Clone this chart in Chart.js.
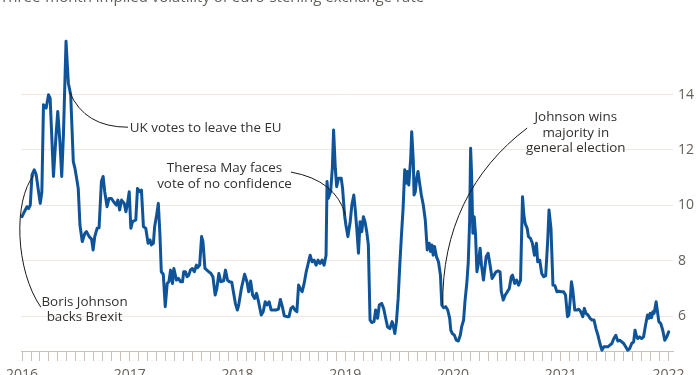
<!DOCTYPE html>
<html>
<head>
<meta charset="utf-8">
<script src="https://cdn.jsdelivr.net/npm/chart.js@4.4.0/dist/chart.umd.min.js"></script>
<style>
  html, body { margin: 0; padding: 0; background: #ffffff; }
  #wrap { width: 700px; height: 375px; }
</style>
</head>
<body>
<div id="wrap"><canvas id="volChart" width="700" height="375"></canvas></div>
<script>
const chartTitle = "Three-month implied volatility of euro-sterling exchange rate";
const yearLabels = ["2016", "2017", "2018", "2019", "2020", "2021", "2022"];
const yTickValues = [6, 8, 10, 12, 14];

// x = months since January 2016
const months = [
  // 2016
  0.00, 0.26, 0.55, 0.74, 0.92, 1.11, 1.36, 1.58, 1.84, 2.03, 2.21, 2.39, 2.69, 2.95, 3.13, 3.50, 3.79,
  3.98, 4.24, 4.42, 4.61, 4.90, 5.16, 5.42, 5.71, 5.89, 6.08, 6.26, 6.45, 6.71, 7.00, 7.18, 7.48, 7.74,
  7.92, 8.10, 8.36, 8.58, 8.84, 9.03, 9.21, 9.47, 9.69, 9.95, 10.20, 10.50, 10.68, 10.87, 11.09,
  // 2017
  11.38, 11.57, 11.75, 11.94, 12.12, 12.30, 12.67, 12.86, 13.12, 13.30, 13.52, 13.78, 14.04, 14.26, 14.40,
  14.63, 14.77, 14.99, 15.18, 15.36, 15.51, 15.73, 15.95, 16.17, 16.36, 16.54, 16.76, 16.91, 17.20, 17.43,
  17.65, 17.87, 18.01, 18.20, 18.38, 18.57, 18.75, 18.97, 19.19, 19.42, 19.56, 19.78, 20.00, 20.15, 20.37,
  20.59, 20.81, 21.04, 21.26, 21.51, 21.70, 21.92, 22.14, 22.44, 22.66, 22.88, 23.10, 23.36, 23.54, 23.76, 23.98,
  // 2018
  24.13, 24.43, 24.79, 25.05, 25.24, 25.46, 25.68, 25.90, 26.12, 26.34, 26.64, 26.86, 27.08, 27.30, 27.52,
  27.74, 28.04, 28.29, 28.55, 28.77, 28.99, 29.21, 29.51, 29.73, 29.95, 30.17, 30.39, 30.61, 30.80, 30.98,
  31.20, 31.42, 31.65, 31.87, 32.09, 32.31, 32.53, 32.75, 32.97, 33.19, 33.41, 33.64, 33.86, 33.97, 34.11,
  34.23, 34.37, 34.56, 34.70, 34.89, 35.04,
  // 2019
  35.26, 35.55, 35.70, 35.92, 36.07, 36.29, 36.55, 36.73, 36.95, 37.10, 37.28, 37.47, 37.65, 37.84, 38.02,
  38.20, 38.39, 38.57, 38.76, 38.94, 39.20, 39.38, 39.60, 39.79, 40.05, 40.27, 40.49, 40.71, 40.97, 41.22,
  41.37, 41.52, 41.70, 41.89, 42.07, 42.26, 42.44, 42.62, 42.77, 42.92, 43.07, 43.29, 43.40, 43.58, 43.66,
  43.80, 43.95, 44.10, 44.28, 44.47, 44.69, 44.91, 45.13, 45.35, 45.50, 45.65, 45.79, 45.94, 46.16, 46.38,
  46.60, 46.75, 46.97, 47.19, 47.41,
  // 2020
  47.63, 47.75, 47.93, 48.15, 48.37, 48.59, 48.81, 48.96, 49.18, 49.33, 49.55, 49.70, 49.85, 49.96, 50.07,
  50.21, 50.36, 50.51, 50.66, 50.80, 51.02, 51.17, 51.39, 51.54, 51.69, 51.91, 52.13, 52.35, 52.57, 52.79,
  53.01, 53.24, 53.38, 53.60, 53.82, 54.05, 54.27, 54.49, 54.63, 54.86, 55.08, 55.30, 55.52, 55.74, 55.89,
  56.03, 56.26, 56.40, 56.62, 56.84, 57.07, 57.29, 57.43, 57.66, 57.88, 58.10, 58.32, 58.54, 58.69, 58.91,
  59.13, 59.35, 59.57, 59.79,
  // 2021
  60.05, 60.31, 60.53, 60.75, 60.90, 61.04, 61.19, 61.34, 61.56, 61.78, 62.00, 62.22, 62.45, 62.63, 62.81,
  63.03, 63.26, 63.48, 63.70, 63.92, 64.14, 64.36, 64.58, 64.80, 65.02, 65.24, 65.47, 65.69, 65.91, 66.13,
  66.35, 66.57, 66.79, 67.01, 67.23, 67.46, 67.68, 67.90, 68.12, 68.27, 68.41, 68.56, 68.78, 69.00, 69.22,
  69.44, 69.66, 69.81, 69.96, 70.11, 70.26, 70.40, 70.62, 70.77, 70.92, 71.14, 71.36, 71.58, 71.80, 72.02
];

const vol = [
  // 2016
  9.59, 9.77, 9.95, 9.89, 10.01, 11.10, 11.28, 11.10, 10.49, 10.07, 10.49, 13.63, 13.51, 13.99, 13.87, 11.04, 12.54,
  13.39, 12.18, 11.04, 12.54, 15.92, 14.41, 13.99, 11.58, 11.34, 10.98, 10.61, 9.29, 8.69, 8.99, 9.05, 8.87, 8.78,
  8.39, 8.87, 9.17, 9.19, 10.86, 11.04, 10.49, 9.95, 10.25, 10.25, 10.13, 10.01, 10.19, 9.83, 10.19,
  // 2017
  10.07, 9.77, 10.07, 10.49, 9.17, 9.41, 9.47, 10.61, 10.49, 10.55, 9.23, 9.17, 8.63, 8.75, 8.57,
  8.63, 9.23, 9.65, 10.07, 8.93, 7.60, 7.51, 6.34, 7.18, 7.24, 7.66, 7.18, 7.72, 7.30, 7.36,
  7.24, 7.24, 7.60, 7.60, 7.42, 7.48, 7.66, 7.72, 7.60, 7.84, 7.75, 7.84, 8.87, 8.69, 7.72,
  7.66, 7.60, 7.54, 7.42, 6.76, 7.00, 7.54, 7.24, 7.27, 7.66, 7.30, 7.24, 7.22, 6.88, 6.46, 6.22,
  // 2018
  6.40, 7.00, 7.51, 7.24, 6.88, 7.27, 6.76, 6.64, 6.82, 6.52, 6.04, 6.16, 6.52, 6.40, 6.52,
  6.22, 6.22, 6.22, 6.25, 6.60, 6.34, 6.01, 5.98, 5.98, 6.28, 6.34, 6.22, 6.16, 7.12, 7.00,
  6.88, 7.18, 7.60, 7.90, 8.20, 7.96, 8.02, 7.84, 8.02, 7.90, 8.02, 7.84, 8.20, 10.86, 10.25,
  10.37, 10.49, 11.34, 12.72, 11.34, 10.67,
  // 2019
  10.98, 10.98, 10.61, 9.65, 9.29, 8.87, 9.41, 10.01, 10.37, 9.89, 9.17, 8.27, 9.41, 9.05, 9.59,
  9.41, 9.05, 8.57, 5.86, 5.77, 5.80, 6.22, 5.92, 6.40, 6.46, 6.28, 5.94, 5.61, 5.55, 5.80,
  5.61, 5.37, 5.80, 6.64, 7.84, 8.93, 9.89, 11.28, 10.80, 11.22, 10.73, 11.70, 12.66, 11.58, 10.37,
  10.49, 10.98, 11.22, 10.80, 10.37, 10.01, 9.47, 8.39, 8.63, 8.33, 8.57, 8.20, 8.51, 8.14, 7.96,
  7.48, 6.40, 6.30, 6.34, 6.22,
  // 2020
  5.92, 5.49, 5.37, 5.31, 5.13, 5.10, 5.31, 5.61, 5.86, 6.52, 7.24, 7.96, 9.41, 12.06, 11.10,
  8.99, 9.59, 8.93, 7.60, 7.84, 8.45, 7.84, 7.30, 7.72, 8.14, 8.27, 7.84, 7.36, 7.48, 7.60,
  7.63, 7.60, 6.88, 6.58, 6.76, 6.88, 7.00, 7.42, 7.48, 7.18, 7.30, 7.12, 7.30, 10.31, 9.65,
  9.35, 9.17, 8.87, 8.81, 8.63, 8.20, 8.63, 7.96, 8.02, 7.54, 7.42, 7.46, 8.69, 9.83, 9.17,
  7.12, 7.10, 6.88, 6.90,
  // 2021
  6.88, 6.88, 6.76, 5.98, 6.04, 6.52, 7.24, 6.94, 6.22, 6.22, 6.25, 6.16, 5.98, 6.28, 6.10,
  6.04, 5.92, 5.86, 5.86, 5.55, 5.31, 5.01, 4.77, 4.89, 4.89, 4.89, 4.95, 5.01, 5.19, 5.31,
  5.10, 5.13, 5.07, 5.01, 4.89, 4.77, 4.83, 5.01, 5.07, 5.49, 5.31, 5.19, 5.25, 5.19, 5.25,
  5.67, 6.04, 5.92, 6.10, 5.94, 6.16, 6.10, 6.52, 6.16, 5.80, 5.73, 5.49, 5.13, 5.25, 5.43
];

// annotations: text anchor and connector path, all in data units (months, vol)
const notes = [
  { lines: ["UK votes to leave the EU"], x: 12.0, y: 12.79, align: "left",
    path: [[5.30, 14.09], [6.96, 12.82], [11.80, 12.82]] },
  { lines: ["Theresa May faces", "vote of no confidence"], x: 22.55, y: 11.34, align: "center",
    path: [[29.95, 11.20], [34.92, 10.91], [36.03, 9.65]] },
  { lines: ["Johnson wins", "majority in", "general election"], x: 61.67, y: 13.18, align: "center",
    path: [[56.26, 12.79], [50.07, 11.27], [46.75, 9.10], [46.86, 6.40]] },
  { lines: ["Boris Johnson", "backs Brexit"], x: 6.96, y: 6.51, align: "center",
    path: [[2.10, 6.32], [-0.77, 7.66], [-0.99, 10.19], [1.33, 11.09]] }
];

const FONT = '"Open Sans", sans-serif';
const n = Math.min(months.length, vol.length);
const points = [];
for (let i = 0; i < n; i++) points.push({ x: months[i], y: vol[i] });

const monthTicks = [];
for (let m = 0; m <= 72; m++) monthTicks.push(m);

const notesPlugin = {
  id: "notes",
  afterDatasetsDraw(chart) {
    const { ctx } = chart;
    const xs = chart.scales.x;
    const ys = chart.scales.y;
    ctx.save();
    notes.forEach((note) => {
      const p = note.path.map(([a, b]) => [xs.getPixelForValue(a), ys.getPixelForValue(b)]);
      ctx.strokeStyle = "#1a1817";
      ctx.lineWidth = 1;
      ctx.beginPath();
      ctx.moveTo(p[0][0], p[0][1]);
      if (p.length === 3) {
        ctx.quadraticCurveTo(p[1][0], p[1][1], p[2][0], p[2][1]);
      } else {
        ctx.bezierCurveTo(p[1][0], p[1][1], p[2][0], p[2][1], p[3][0], p[3][1]);
      }
      ctx.stroke();

      ctx.fillStyle = "#33302e";
      ctx.font = "13.4px " + FONT;
      ctx.textAlign = note.align;
      ctx.textBaseline = "middle";
      const tx = xs.getPixelForValue(note.x);
      const ty = ys.getPixelForValue(note.y);
      note.lines.forEach((t, i) => ctx.fillText(t, tx, ty + i * 15.5));
    });

    // title, mostly cropped off the top of the picture
    ctx.fillStyle = "#66605c";
    ctx.font = "15px " + FONT;
    ctx.textAlign = "left";
    ctx.textBaseline = "alphabetic";
    ctx.fillText(chartTitle, 0, 2);
    ctx.restore();
  }
};

new Chart(document.getElementById("volChart"), {
  type: "line",
  data: {
    datasets: [
      {
        data: points,
        borderColor: "#0f5499",
        borderWidth: 3,
        pointRadius: 0,
        tension: 0,
        borderJoinStyle: "round",
        borderCapStyle: "round",
        clip: false,
      },
    ],
  },
  options: {
    responsive: false,
    devicePixelRatio: 1,
    animation: false,
    layout: { padding: { top: 33.6, left: 16, right: 0, bottom: 0 } },
    plugins: {
      legend: { display: false },
      tooltip: { enabled: false },
    },
    scales: {
      x: {
        type: "linear",
        min: -0.1,
        max: 72.5,
        afterBuildTicks: (s) => {
          s.ticks = monthTicks.map((v) => ({ value: v }));
        },
        afterFit: (s) => {
          s.height = 24;
        },
        ticks: {
          autoSkip: false,
          maxRotation: 0,
          padding: 6,
          color: "#66605c",
          font: { family: FONT, size: 14 },
          callback: (v) => (v % 12 === 0 ? yearLabels[v / 12] : ""),
        },
        grid: {
          drawOnChartArea: false,
          drawTicks: true,
          tickLength: 10,
          color: "#ccc1b7",
        },
        border: { display: true, color: "#ccc1b7" },
      },
      y: {
        position: "right",
        min: 4.74,
        max: 16.2,
        afterBuildTicks: (s) => {
          s.ticks = yTickValues.map((v) => ({ value: v }));
        },
        afterFit: (s) => {
          s.width = 27;
        },
        ticks: {
          padding: 5,
          color: "#66605c",
          font: { family: FONT, size: 14 },
        },
        grid: { drawTicks: false, color: "#f0e8e2" },
        border: { display: false },
      },
    },
  },
  plugins: [notesPlugin],
});
</script>
</body>
</html>
